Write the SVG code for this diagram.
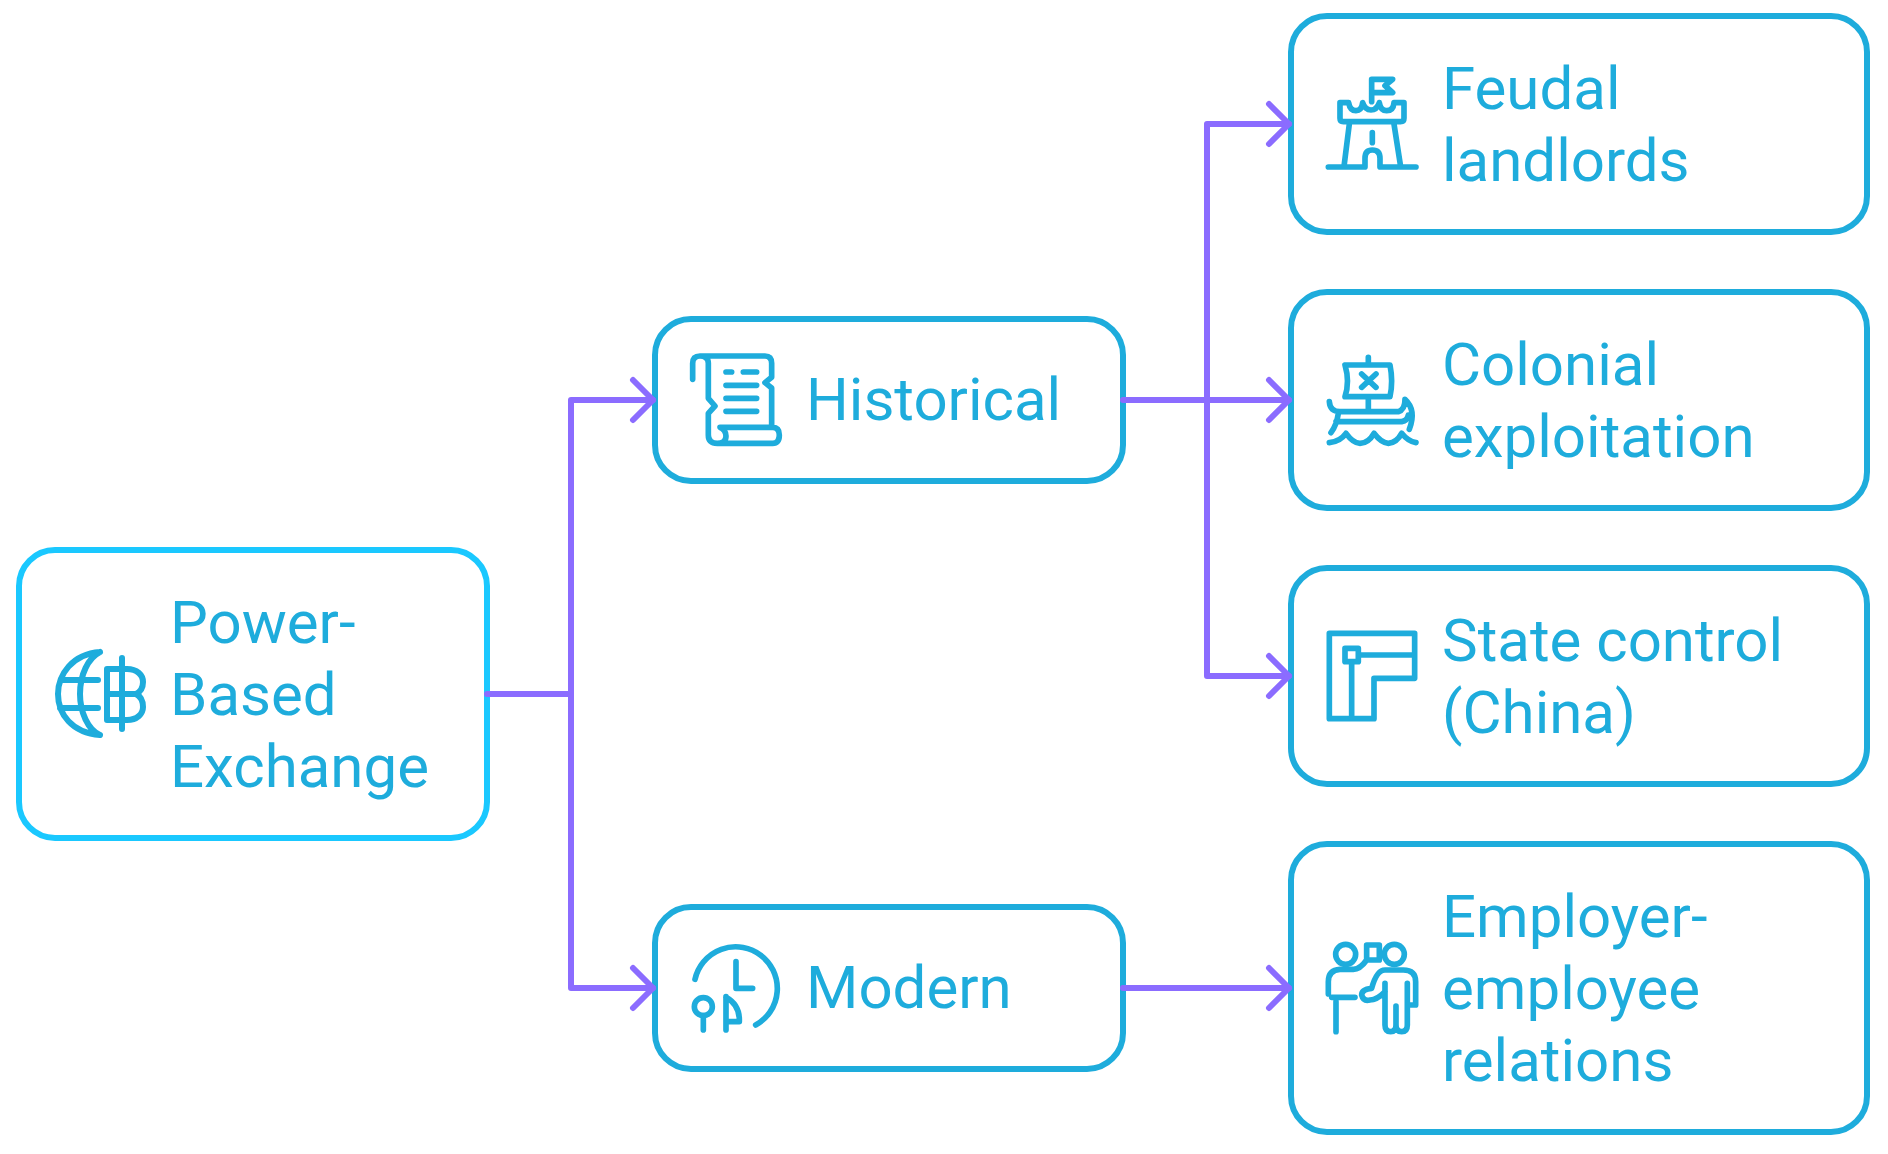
<svg xmlns="http://www.w3.org/2000/svg" width="1888" height="1154" viewBox="0 0 1888 1154">
<style>
.box{fill:#fff;stroke:#1eacdc;stroke-width:6}
.root{stroke:#1ac8ff}
.t{font-family:Roboto,"Liberation Sans",sans-serif;font-size:60px;fill:#1eacdc}
.ic{fill:none;stroke:#1eacdc;stroke-linecap:round;stroke-linejoin:round}
.z{stroke-width:17}
.c{fill:none;stroke:#8b6cff;stroke-width:6;stroke-linecap:round;stroke-linejoin:round}
</style>
<rect width="1888" height="1154" fill="#fff"/>
<g id="n-root">
<rect class="box root" x="19" y="550" width="468" height="288" rx="36"/>
<g class="ic" stroke-width="6">
<path d="M100 652C72 654 58 675 58 694C58 714 72 733 100 735M100 652C88 658 80 675 80 694C80 712 88 730 100 735M62 680H98M60 708H98"/>
<path d="M107 669H127C137 669 143 675 143 682C143 688 140 692 136 694C140 696 143 700 143 707C143 714 137 720 127 720H107ZM107 694H136M122 658V729"/>
</g>
<text class="t" x="170" y="643">Power-</text><text class="t" x="170" y="715">Based</text><text class="t" x="170" y="787">Exchange</text>
</g>
<g id="n-historical">
<rect class="box" x="655" y="319" width="468" height="162" rx="36"/>
<g class="ic z" transform="translate(640 300) scale(.3333)">
<path d="M158 238V190Q158 168 180 168H375Q395 168 395 190V232L375 248L395 264V380M180 168Q205 168 205 190V295L225 318L205 340V405Q205 430 232 430H398Q418 430 418 405Q418 382 398 382H240Q258 390 258 408Q258 430 232 430M258 216H275M310 216H350M258 256H350M258 295H350M258 334H350"/>
</g>
<text class="t" x="806" y="420">Historical</text>
</g>
<g id="n-modern">
<rect class="box" x="655" y="907" width="468" height="162" rx="36"/>
<g class="ic z" transform="translate(640 890) scale(.3333)">
<path d="M165 268A125 125 0 1 1 347 405M288 215V295H338M190 377V420M258 320V420M258 322Q300 345 298 395H258"/>
<circle cx="190" cy="350" r="27"/>
</g>
<text class="t" x="806" y="1008">Modern</text>
</g>
<g id="n-feudal">
<rect class="box" x="1291" y="16" width="576" height="216" rx="36"/>
<g class="ic z" transform="translate(1270 50) scale(.3333)">
<path d="M305 155V88H368L345 107L368 128H305M236 158H210V205Q210 215 220 215H392Q402 215 402 205V158H372Q370 182 350 182Q332 182 328 158Q320 180 303 180Q285 180 278 158Q275 182 258 182Q240 182 236 158ZM238 222L222 350M372 222L392 350M175 351H285V325Q285 300 307 300Q330 300 330 325V351H438M307 248V278"/>
</g>
<text class="t" x="1442" y="109">Feudal</text><text class="t" x="1442" y="181">landlords</text>
</g>
<g id="n-colonial">
<rect class="box" x="1291" y="292" width="576" height="216" rx="36"/>
<g class="ic z" transform="translate(1270 330) scale(.3333)">
<path d="M295 82V105M225 105H360Q370 155 360 200H225Q240 155 225 105ZM295 200V240M275 132L318 172M318 132L275 172M178 215Q180 245 210 245H385Q405 240 405 208Q440 240 418 298M198 275H395Q412 272 415 255M205 250Q200 285 183 308M178 338Q210 335 228 310Q250 340 270 340Q295 340 312 310Q335 340 355 340Q380 338 395 310Q415 335 438 338"/>
</g>
<text class="t" x="1442" y="385">Colonial</text><text class="t" x="1442" y="457">exploitation</text>
</g>
<g id="n-state">
<rect class="box" x="1291" y="568" width="576" height="216" rx="36"/>
<g class="ic z" transform="translate(1270 610) scale(.3333)">
<path d="M178 70H434V205H312V326H178ZM272 135H434M245 158V326"/>
<rect x="225" y="115" width="40" height="40"/>
</g>
<text class="t" x="1442" y="661">State control</text><text class="t" x="1442" y="733">(China)</text>
</g>
<g id="n-employer">
<rect class="box" x="1291" y="844" width="576" height="288" rx="36"/>
<g class="ic z" transform="translate(1270 920) scale(.3333)">
<circle cx="227" cy="103" r="30"/><circle cx="373" cy="103" r="30"/>
<path d="M175 222V185Q175 150 210 148H250Q270 148 290 120V75H328V120H295M185 232H255M198 245V335M345 190V315Q345 335 362 335Q378 335 378 315V258M378 315Q378 335 395 335Q412 335 412 315V190M437 255V185Q437 150 400 150H345Q320 150 305 205Q275 208 275 225Q280 245 300 240Q320 240 345 215M412 255H437"/>
</g>
<text class="t" x="1442" y="937">Employer-</text><text class="t" x="1442" y="1009">employee</text><text class="t" x="1442" y="1081">relations</text>
</g>
<g id="connectors" class="c">
<path d="M487 694H571V400H653M571 694V988H653"/>
<path d="M1123 400H1289M1207 400V124H1289M1207 400V676H1289M1123 988H1289"/>
<path d="M633 380L653 400L633 420M633 968L653 988L633 1008"/>
<path d="M1269 104L1289 124L1269 144M1269 380L1289 400L1269 420M1269 656L1289 676L1269 696M1269 968L1289 988L1269 1008"/>
</g>
</svg>
